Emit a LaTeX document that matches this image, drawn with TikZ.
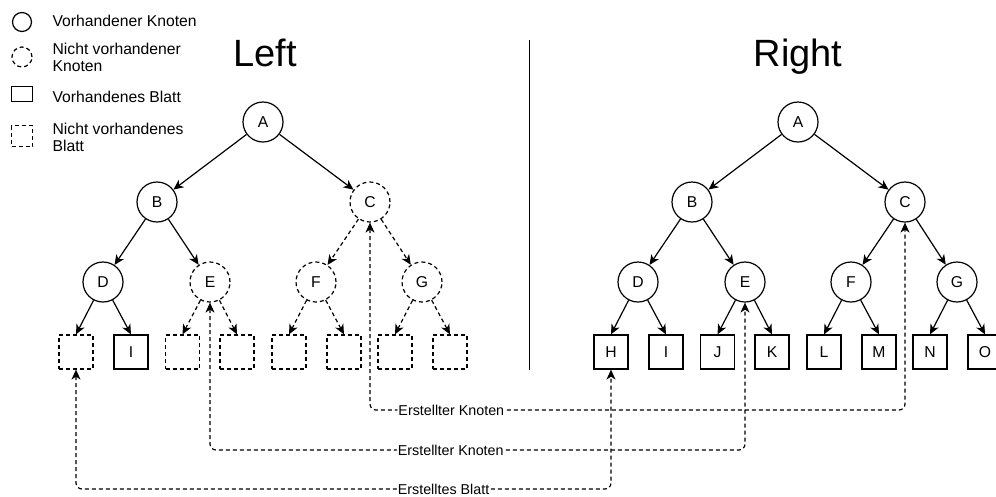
\documentclass[tikz,border=0pt]{standalone}
\usepackage{fontspec}
\setmainfont{Liberation Sans}
\usetikzlibrary{arrows.meta}

\begin{document}
\begin{tikzpicture}
 [x=1pt,y=-1pt,line width=1.2pt,font=\fontsize{15.7}{17}\selectfont,
  knot/.style={circle,draw,minimum size=40pt,inner sep=0pt},
  blatt/.style={rectangle,draw,minimum size=34pt,inner sep=0pt},
  fehlt/.style={dash pattern=on 4pt off 3pt},
  pfeil/.style={-{Stealth[length=10pt,width=9pt,inset=3pt]}},
  link/.style={fehlt,rounded corners=6pt,{Stealth[length=10pt,width=9pt,inset=3pt]}-{Stealth[length=10pt,width=9pt,inset=3pt]}},
  lbl/.style={fill=white,inner xsep=1pt,inner ysep=0pt,font=\fontsize{14.3}{16}\selectfont},
  legtxt/.style={anchor=west,align=left,inner sep=0pt}]
  \useasboundingbox (0,0) rectangle (996,496);
  % legend
  \node[knot,minimum size=19pt] (lgk) at (22,22) {};
  \node[knot,fehlt,minimum size=20pt] (lgkn) at (22,57) {};
  \node[draw,minimum width=21pt,minimum height=15pt] (lgb) at (22,94) {};
  \node[draw,fehlt,minimum size=21pt] (lgbn) at (22,136) {};
  \node[legtxt] (tk) at (52,21) {Vorhandener Knoten};
  \node[legtxt] (tkn) at (52,57) {Nicht vorhandener\\Knoten};
  \node[legtxt] (tb) at (52,97) {Vorhandenes Blatt};
  \node[legtxt] (tbn) at (52,137) {Nicht vorhandenes\\Blatt};
  % titles
  \node[anchor=base,font=\fontsize{38}{40}\selectfont] (left) at (265,66) {Left};
  \node[anchor=base,font=\fontsize{38}{40}\selectfont] (right) at (798,66) {Right};
  \coordinate (s1) at (529,40);
  \coordinate (s2) at (529,370);
  \draw[line width=1pt] (s1) -- (s2);
  % left tree
  \node[knot] (lA) at (263,122) {A};
  \node[knot] (lB) at (157,202) {B};
  \node[knot,fehlt] (lC) at (370,202) {C};
  \node[knot] (lD) at (103,282) {D};
  \node[knot,fehlt] (lE) at (210,282) {E};
  \node[knot,fehlt] (lF) at (316,282) {F};
  \node[knot,fehlt] (lG) at (422,282) {G};
  \node[blatt,fehlt] (l1) at (76,352) {};
  \node[blatt] (lI) at (131,352) {I};
  \node[blatt,fehlt] (l3) at (182.5,352) {};
  \node[blatt,fehlt] (l4) at (237,352) {};
  \node[blatt,fehlt] (l5) at (289,352) {};
  \node[blatt,fehlt] (l6) at (344,352) {};
  \node[blatt,fehlt] (l7) at (395,352) {};
  \node[blatt,fehlt] (l8) at (450,352) {};
  % right tree
  \node[knot] (rA) at (798,122) {A};
  \node[knot] (rB) at (692,202) {B};
  \node[knot] (rC) at (905,202) {C};
  \node[knot] (rD) at (638,282) {D};
  \node[knot] (rE) at (745,282) {E};
  \node[knot] (rF) at (851,282) {F};
  \node[knot] (rG) at (957,282) {G};
  \node[blatt] (rH) at (611,352) {H};
  \node[blatt] (rI) at (666,352) {I};
  \node[blatt] (rJ) at (717.5,352) {J};
  \node[blatt] (rK) at (772,352) {K};
  \node[blatt] (rL) at (824,352) {L};
  \node[blatt] (rM) at (879,352) {M};
  \node[blatt] (rN) at (930,352) {N};
  \node[blatt] (rO) at (985,352) {O};
  % edges
  \foreach \von/\nach in {lA/lB,lA/lC,lB/lD,lB/lE,rA/rB,rA/rC,rB/rD,rB/rE,rC/rF,rC/rG}
    \draw[pfeil] (\von) -- (\nach);
  \foreach \von/\nach in {lD/l1,lD/lI,rD/rH,rD/rI,rE/rJ,rE/rK,rF/rL,rF/rM,rG/rN,rG/rO}
    \draw[pfeil] (\von) -- (\nach.north);
  \foreach \von/\nach in {lC/lF,lC/lG}
    \draw[pfeil,fehlt] (\von) -- (\nach);
  \foreach \von/\nach in {lE/l3,lE/l4,lF/l5,lF/l6,lG/l7,lG/l8}
    \draw[pfeil,fehlt] (\von) -- (\nach.north);
  % links between the trees
  \coordinate (yk) at (0,410);
  \coordinate (ye) at (0,450);
  \coordinate (yb) at (0,489);
  \draw[link] (lC) -- (lC |- yk) -- node[lbl,pos=.152] {Erstellter Knoten} (rC |- yk) -- (rC);
  \draw[link] (lE) -- (lE |- ye) -- node[lbl,pos=.45] {Erstellter Knoten} (rE |- ye) -- (rE);
  \draw[link] (l1) -- (l1 |- yb) -- node[lbl,pos=.687] {Erstelltes Blatt} (rH |- yb) -- (rH);
\end{tikzpicture}
\end{document}
